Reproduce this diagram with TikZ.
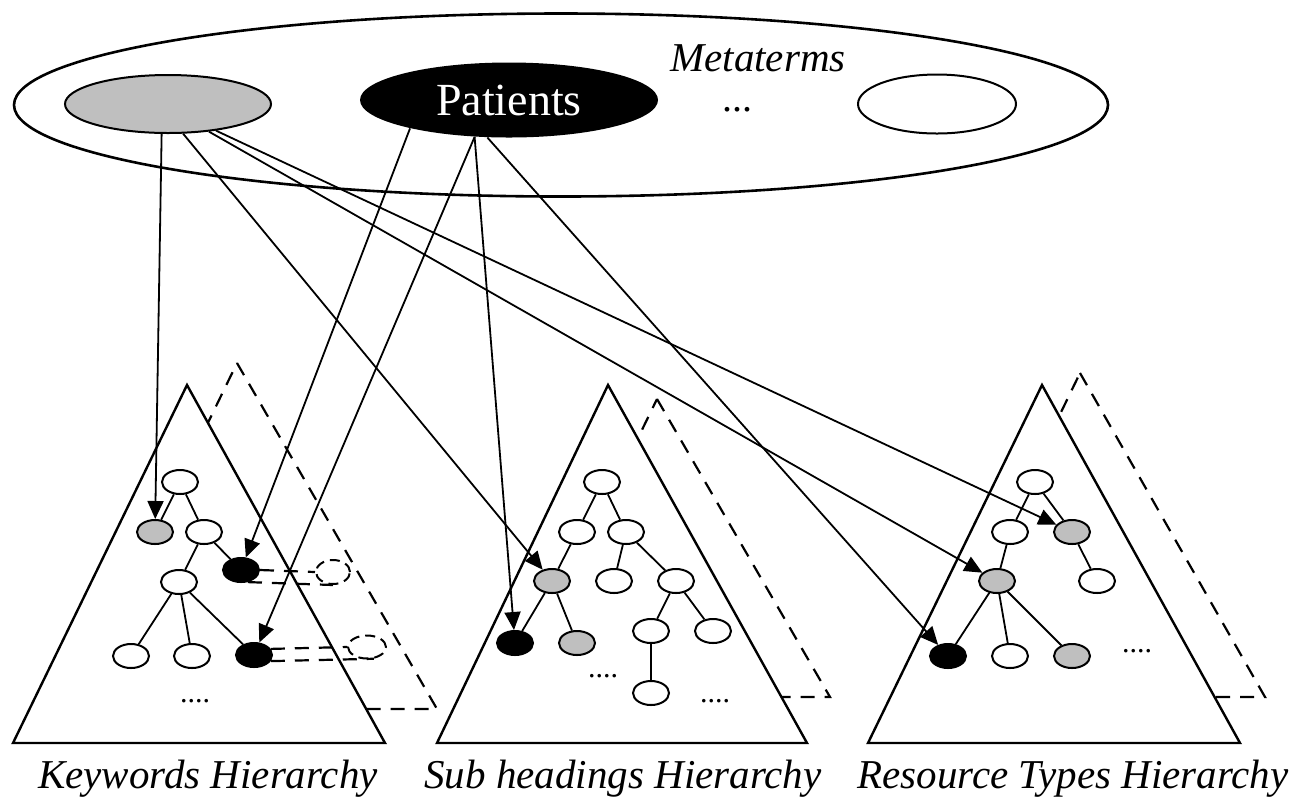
\documentclass[tikz,border=0pt]{standalone}
\usepackage{fontspec}
\setmainfont{Liberation Serif}
\usetikzlibrary{shapes.geometric,arrows.meta}

\begin{document}
\begin{tikzpicture}[x=0.5pt,y=-0.5pt,
  knoten/.style={ellipse,draw,line width=1pt,minimum width=18pt,minimum height=12pt,inner sep=0pt},
  weiss/.style={knoten,fill=white},
  grau/.style={knoten,fill=gray!50},
  schwarz/.style={knoten,fill=black},
  geist/.style={ellipse,draw,line width=1pt,dash pattern=on 5pt off 3pt,minimum width=17pt,minimum height=12pt,inner sep=0pt},
  kante/.style={line width=0.9pt},
  pfeil/.style={-{Triangle[length=9pt,width=8pt]},line width=0.9pt},
  strich/.style={line width=1.1pt,dash pattern=on 7pt off 5pt},
  dreieck/.style={draw,fill=white,line width=1.2pt},
  beschr/.style={font=\fontsize{20.5}{24}\selectfont\itshape},
  punkte/.style={font=\fontsize{15}{18}\selectfont,inner sep=1pt}]
  \useasboundingbox (0,0) rectangle (1301,800);

  % Metaterme
  \node[ellipse,draw,line width=1.3pt,minimum width=547pt,minimum height=91.5pt] (meta) at (561,105) {};
  \node[ellipse,draw,fill=gray!50,line width=1pt,minimum width=103pt,minimum height=29pt,inner sep=0pt] (gm) at (168,104) {};
  \node[ellipse,fill=black,text=white,minimum width=149pt,minimum height=37.5pt,inner sep=0pt,font=\fontsize{23}{26}\selectfont] (pa) at (509,100) {Patients};
  \node[ellipse,draw,line width=1pt,minimum width=79pt,minimum height=29.5pt,inner sep=0pt] (wm) at (937,104) {};
  \node[beschr,inner sep=1pt] (mt) at (758,58) {Metaterms};
  \node[font=\fontsize{20}{24}\selectfont,inner sep=1pt] (pk) at (737,110) {...};

  % Hierarchien dahinter (gestrichelt)
  \draw[strich] (237,363) -- (437,709) -- (69,709) -- cycle;
  \draw[strich] (657,399) -- (830,697) -- (512,697) -- cycle;
  \draw[strich] (1080,373) -- (1265,697) -- (923,697) -- cycle;

  % Hierarchien
  \draw[dreieck] (187,385) -- (385,743) -- (13,743) -- cycle;
  \draw[dreieck] (608,385) -- (807,743) -- (437,743) -- cycle;
  \draw[dreieck] (1042,385) -- (1240,743) -- (868,743) -- cycle;

  % Keywords
  \node[weiss] (k1) at (180,482) {};
  \node[grau] (k2) at (155,532) {};
  \node[weiss] (k3) at (204,532) {};
  \node[schwarz] (k4) at (241,570) {};
  \node[weiss] (k5) at (179,582) {};
  \node[weiss] (k6) at (131,656) {};
  \node[weiss] (k7) at (192,656) {};
  \node[schwarz] (k8) at (254,655) {};
  \node[punkte] (kp) at (195,701) {....};
  \foreach \a/\b in {k1/k2, k1/k3, k3/k4, k3/k5, k5/k6, k5/k7, k5/k8}
    \draw[kante] (\a) -- (\b);

  % Kopien im hinteren Baum
  \node[geist] (g1) at (333,572) {};
  \node[geist,minimum width=19pt,minimum height=11.5pt] (g2) at (367,647) {};
  \draw[strich] (k4.east) -- (g1.west);
  \draw[strich] (k4.-60) -- (g1.south);
  \draw[strich] (k8.20) -- (g2.west);
  \draw[strich] (k8.-20) -- (g2.-60);

  % Sub headings
  \node[weiss] (s1) at (602,482) {};
  \node[weiss] (s2) at (577,532) {};
  \node[weiss] (s3) at (626,532) {};
  \node[grau] (s4) at (552,581) {};
  \node[weiss] (s5) at (614,581) {};
  \node[weiss] (s6) at (676,581) {};
  \node[schwarz] (s7) at (515,643) {};
  \node[grau] (s8) at (577,643) {};
  \node[weiss] (s9) at (651,631) {};
  \node[weiss] (s10) at (713,631) {};
  \node[weiss] (s11) at (651,693) {};
  \node[punkte] (sp1) at (603,676) {....};
  \node[punkte] (sp2) at (715,701) {....};
  \foreach \a/\b in {s1/s2, s1/s3, s2/s4, s3/s5, s3/s6, s4/s7, s4/s8, s6/s9, s6/s10, s9/s11}
    \draw[kante] (\a) -- (\b);

  % Resource Types
  \node[weiss] (r1) at (1035,482) {};
  \node[weiss] (r2) at (1010,532) {};
  \node[grau] (r3) at (1072,532) {};
  \node[grau] (r4) at (997,581) {};
  \node[weiss] (r5) at (1097,581) {};
  \node[schwarz] (r6) at (948,656) {};
  \node[weiss] (r7) at (1010,656) {};
  \node[grau] (r8) at (1072,656) {};
  \node[punkte] (rp) at (1137,651) {....};
  \foreach \a/\b in {r1/r2, r1/r3, r2/r4, r3/r5, r4/r6, r4/r7, r4/r8}
    \draw[kante] (\a) -- (\b);

  % Beschriftung unten
  \node[beschr,anchor=base] (lk) at (208,788) {Keywords Hierarchy};
  \node[beschr,anchor=base] (ls) at (623,788) {Sub headings Hierarchy};
  \node[beschr,anchor=base] (lr) at (1073,788) {Resource Types Hierarchy};

  % Zuordnungen
  \draw[pfeil] (gm.258) -- (k2);
  \draw[pfeil] (gm.297) -- (s4);
  \draw[pfeil] (gm.326) -- (r4);
  \draw[pfeil] (gm.331) -- (r3);
  \draw[pfeil] (pa.196) -- (k4);
  \draw[pfeil] (pa.227) -- (k8);
  \draw[pfeil] (pa.227) -- (s7);
  \draw[pfeil] (pa.240) -- (r6);
\end{tikzpicture}
\end{document}
